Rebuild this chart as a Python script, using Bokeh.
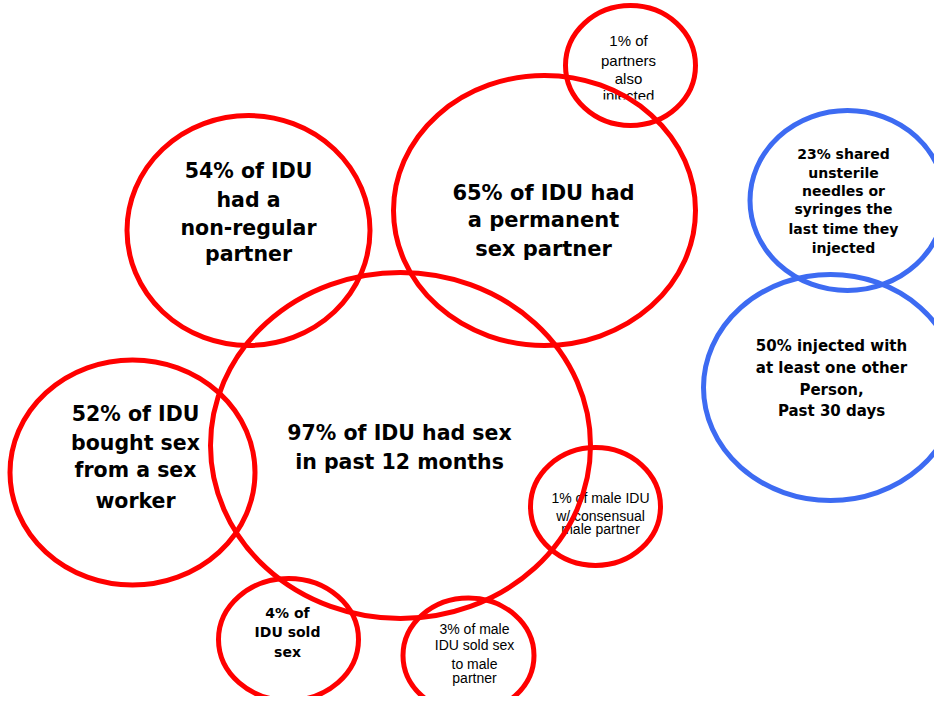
from bokeh.plotting import figure
from bokeh.models import Range1d
from bokeh.core.properties import value
from bokeh.embed import file_html
from bokeh.resources import INLINE

# ---- data: the labelled groups (percent of IDU) ----
percents = [97, 54, 65, 1, 52, 1, 4, 3, 23, 50]
labels = [
    ["97% of IDU had sex", "in past 12 months"],
    ["54% of IDU", "had a", "non-regular", "partner"],
    ["65% of IDU had", "a permanent", "sex partner"],
    ["1% of", "partners", "also", "injected"],
    ["52% of IDU", "bought sex", "from a sex", "worker"],
    ["1% of male IDU", "w/ consensual", "male partner"],
    ["4% of", "IDU sold", "sex"],
    ["3% of male", "IDU sold sex", "to male", "partner"],
    ["23% shared", "unsterile", "needles or", "syringes the", "last time they", "injected"],
    ["50% injected with", "at least one other", "Person,", "Past 30 days"],
]
group = ["sex", "sex", "sex", "sex", "sex", "sex", "sex", "sex", "inject", "inject"]

# ---- layout (diagram positions, in page pixels) ----
cx = [400, 248, 544, 630, 132, 595, 288, 468, 847, 830]
cy = [445, 230, 210, 65, 472, 506, 639, 655, 200, 387]
cw = [380, 243, 302, 130, 245, 130, 140, 131, 195, 254]
ch = [346, 230, 270, 120, 225, 118, 122, 115, 180, 226]

# text placement per label (centre x, y of each line)
t_x = [399, 248, 543, 628, 135, 600, 287, 474, 843, 831]
t_ys = [
    [432, 461],
    [170, 199, 227, 253],
    [192, 219, 248],
    [40, 60, 78, 95],
    [413, 442, 469, 500],
    [497, 515, 528],
    [612, 631, 651],
    [628, 644, 663, 677],
    [153, 172, 190, 208, 228, 247],
    [345, 367, 389, 410],
]
t_size = [20.5, 20.5, 21, 15, 20.5, 14, 14, 14, 14, 15]
t_bold = [True, True, True, False, True, False, True, False, True, True]

colors = {"sex": "#FF0000", "inject": "#3D6BF2"}

p = figure(width=934, height=696, output_backend="svg", toolbar_location=None,
           x_range=Range1d(0, 934), y_range=Range1d(696, 0),
           min_border=0, border_fill_color="white", background_fill_color="white")
p.axis.visible = False
p.grid.visible = False
p.outline_line_color = None

for i, lines in enumerate(labels):
    xs = [t_x[i]] * len(lines)
    p.text(x=xs, y=t_ys[i], text=lines, text_align="center", text_baseline="middle",
           text_font=value("DejaVu Sans" if t_bold[i] else "Liberation Sans"),
           text_font_size=f"{t_size[i]}px",
           text_font_style="bold" if t_bold[i] else "normal", text_color="black")

# clip the last line of the small top bubble as in the original text box
p.quad(left=[595], right=[665], top=[99], bottom=[112], fill_color="white", line_color=None)

p.ellipse(x=cx, y=cy, width=cw, height=ch, fill_color=None,
          line_color=[colors[g] for g in group], line_width=5)

open("out.html", "w").write(file_html(p, INLINE))
